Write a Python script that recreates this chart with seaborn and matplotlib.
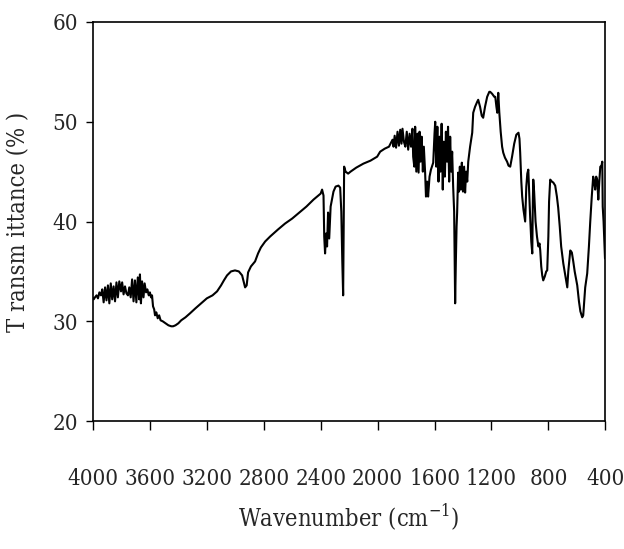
import matplotlib
matplotlib.use("Agg")
import matplotlib.pyplot as plt
from matplotlib import font_manager
import seaborn as sns
import pandas as pd

# IR spectrum (wavenumber in cm-1, transmittance in %)
wavenumber = [
    4000, 3995, 3986, 3975, 3965, 3955, 3944, 3935, 3925, 3915, 3905, 3895, 3885, 3875, 3865,
    3855, 3845, 3835, 3825, 3815, 3803, 3795, 3785, 3775, 3765, 3754, 3745, 3735, 3725, 3715,
    3705, 3695, 3685, 3675, 3670, 3663, 3655, 3645, 3637, 3627, 3618, 3608, 3600, 3592, 3585,
    3578, 3570, 3564, 3555, 3545, 3535, 3525, 3510, 3490, 3470, 3450, 3437, 3420, 3400, 3380,
    3350, 3318, 3280, 3240, 3200, 3160, 3128, 3100, 3080, 3058, 3030, 3002, 2975, 2952, 2940,
    2931, 2920, 2910, 2890, 2861, 2840, 2820, 2790, 2755, 2700, 2650, 2600, 2550, 2500, 2450,
    2400, 2390, 2380, 2375, 2369, 2362, 2355, 2348, 2340, 2330, 2310, 2295, 2275, 2263, 2255,
    2248, 2242, 2238, 2235, 2225, 2207, 2190, 2150, 2100, 2050, 2003, 1982, 1950, 1920, 1895,
    1888, 1880, 1870, 1860, 1850, 1841, 1832, 1825, 1815, 1805, 1795, 1785, 1775, 1765, 1755,
    1750, 1742, 1736, 1728, 1720, 1712, 1705, 1698, 1690, 1682, 1675, 1666, 1660, 1652, 1645,
    1635, 1625, 1609, 1600, 1595, 1588, 1580, 1572, 1565, 1558, 1550, 1542, 1535, 1527, 1520,
    1512, 1505, 1497, 1490, 1483, 1476, 1469, 1462, 1458, 1455, 1450, 1445, 1441, 1436, 1434,
    1428, 1422, 1415, 1408, 1400, 1392, 1385, 1378, 1370, 1363, 1350, 1335, 1328, 1315, 1300,
    1293, 1280, 1268, 1258, 1245, 1230, 1215, 1209, 1195, 1180, 1173, 1165, 1159, 1152, 1145,
    1135, 1125, 1117, 1105, 1090, 1080, 1068, 1055, 1040, 1025, 1010, 1003, 998, 990, 984,
    975, 963, 955, 948, 941, 935, 928, 920, 913, 909, 906, 900, 890, 880, 870,
    862, 857, 850, 843, 836, 825, 815, 808, 800, 795, 787, 775, 765, 752, 740,
    731, 720, 710, 695, 680, 667, 660, 650, 646, 635, 625, 615, 605, 597, 585,
    575, 562, 555, 548, 541, 527, 515, 506, 495, 485, 478, 471, 464, 457, 449,
    442, 435, 428, 421, 418, 412, 407, 402,
]
transmittance = [
    32.3, 32.2, 32.4, 32.6, 32.3, 32.9, 32.6, 33.2, 31.9, 33.4, 32.1, 33.6, 31.8, 33.8, 32.2,
    33.5, 32.0, 33.9, 32.4, 34.0, 33.0, 33.9, 32.7, 33.5, 32.8, 32.6, 33.4, 32.4, 34.2, 32.0,
    34.1, 31.9, 34.4, 32.2, 34.7, 31.8, 34.0, 32.4, 33.8, 32.9, 33.2, 32.6, 32.9, 32.4, 32.6,
    31.5, 31.2, 30.6, 30.9, 30.3, 30.6, 30.1, 30.0, 29.8, 29.6, 29.5, 29.5, 29.6, 29.8, 30.1,
    30.4, 30.8, 31.3, 31.8, 32.3, 32.6, 33.0, 33.6, 34.1, 34.6, 35.0, 35.1, 35.0, 34.6, 33.9,
    33.4, 33.6, 34.9, 35.5, 36.0, 36.8, 37.4, 38.0, 38.5, 39.2, 39.8, 40.3, 40.9, 41.5, 42.2,
    42.8, 43.2, 42.6, 38.5, 36.8, 38.8, 37.5, 40.9, 38.3, 41.5, 43.0, 43.5, 43.6, 43.4, 41.0,
    36.0, 32.6, 40.0, 45.5, 45.0, 44.8, 45.0, 45.4, 45.8, 46.1, 46.5, 47.0, 47.3, 47.5, 48.2,
    47.5, 48.6, 47.4, 49.0, 47.6, 49.2, 47.8, 49.3, 48.0, 47.5, 49.0, 47.2, 48.8, 47.5, 49.3,
    46.5, 45.5, 49.5, 45.0, 48.8, 44.9, 49.0, 46.0, 48.5, 45.0, 47.5, 44.9, 42.5, 44.0, 42.5,
    44.5, 45.2, 45.9, 48.8, 50.0, 45.5, 49.5, 44.0, 48.5, 45.0, 49.8, 43.2, 48.0, 44.5, 49.0,
    46.0, 49.5, 44.0, 48.5, 45.0, 47.0, 43.5, 41.0, 36.0, 31.8, 36.0, 39.5, 40.9, 43.5, 44.9,
    43.0, 45.5, 43.2, 45.9, 43.0, 45.5, 42.9, 45.0, 44.0, 46.0, 47.5, 48.9, 50.9, 51.5, 52.0,
    52.2, 51.5, 50.6, 50.4, 51.5, 52.5, 53.0, 53.0, 52.8, 52.5, 52.5, 51.5, 50.9, 52.9, 51.0,
    49.0, 47.5, 46.9, 46.4, 46.0, 45.6, 45.5, 46.5, 47.8, 48.7, 48.9, 48.3, 46.9, 44.0, 42.5,
    41.2, 40.0, 43.5, 44.8, 45.2, 43.0, 40.5, 38.0, 36.8, 42.0, 44.2, 43.0, 40.0, 38.5, 37.5,
    37.8, 37.1, 35.5, 34.6, 34.1, 34.5, 35.0, 35.1, 38.5, 42.0, 44.2, 44.0, 43.9, 43.6, 42.5,
    41.4, 39.5, 37.5, 35.8, 34.5, 33.4, 35.0, 36.5, 37.1, 36.9, 36.0, 35.0, 34.2, 33.6, 32.0,
    31.0, 30.4, 30.6, 32.0, 33.4, 34.8, 37.5, 39.9, 42.5, 44.5, 44.0, 43.2, 44.5, 44.2, 42.2,
    44.0, 45.5, 45.5, 46.0, 41.5, 40.0, 38.2, 36.3,
]
x_ticks = [4000, 3600, 3200, 2800, 2400, 2000, 1600, 1200, 800, 400]
y_ticks = [20, 30, 40, 50, 60]

spectrum = pd.DataFrame({"wavenumber": wavenumber, "transmittance": transmittance})

sns.set_style("white")
plt.rcParams["font.family"] = ["Liberation Serif", "DejaVu Serif"]

# the reference uses a narrow Times face; use a condensed serif if one is installed
condensed = [f for f in font_manager.fontManager.ttflist
             if f.name == "DejaVu Serif" and f.stretch == "condensed" and f.weight == 400
             and f.style == "normal"]
if condensed:
    plt.rcParams["font.family"] = ["DejaVu Serif"]
    plt.rcParams["font.stretch"] = "condensed"
    label_size = 16
else:
    label_size = 17

fig = plt.figure(figsize=(6.24, 5.49), dpi=100)
ax = fig.add_axes([0.149, 0.233, 0.821, 0.727])

sns.lineplot(data=spectrum, x="wavenumber", y="transmittance", sort=False,
             color="black", linewidth=1.5, ax=ax)

ax.set_xlim(4000, 400)
ax.set_ylim(20, 60)
ax.set_xticks(x_ticks)
ax.set_yticks(y_ticks)
ax.tick_params(axis="x", direction="out", length=6.5, width=1, pad=27, labelsize=label_size, color="black")
ax.tick_params(axis="y", direction="out", length=5, width=1, pad=6, labelsize=label_size, color="black")
ax.tick_params(left=True, bottom=True)
for spine in ax.spines.values():
    spine.set_color("black")
    spine.set_linewidth(1.2)

ax.set_xlabel("Wavenumber (cm$^{\\mathregular{-1}}$)", fontsize=label_size + 1, labelpad=9)
ax.set_ylabel("T ransm ittance (% )", fontsize=label_size + 1, labelpad=16)

fig.savefig("out.png", dpi=100)
